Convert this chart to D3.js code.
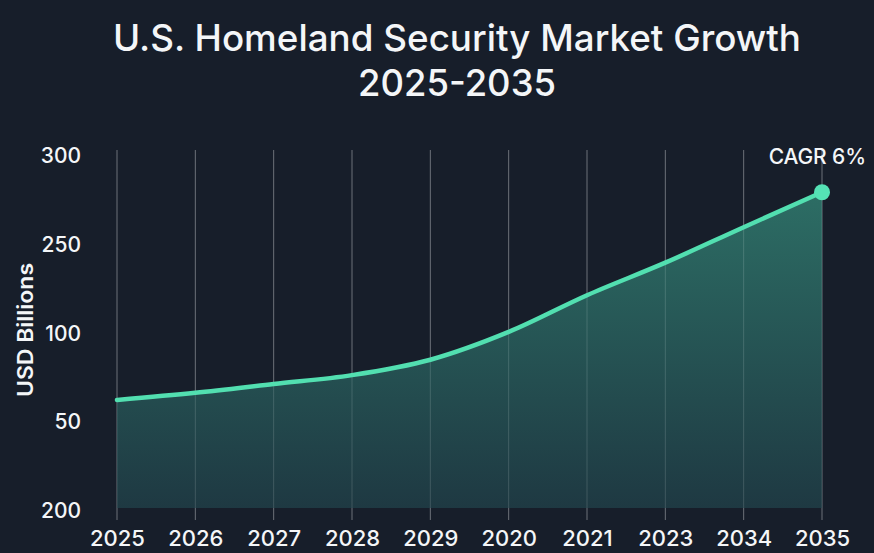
<html>
  <head>
    <script src="https://d3js.org/d3.v7.min.js"></script>
    <style>
      body { margin: 0; background: #171e2a; }
      text { font-family: Inter, "Noto Sans", sans-serif; fill: #f4f6f8; }
      .grid line { stroke: rgba(255,255,255,0.28); stroke-width: 1; }
      .domain { display: none; }
      .tick line { display: none; }
    </style>
  </head>
  <body>
    <svg id="chart" width="874" height="553"></svg>
    <script>
      // labels as printed on the chart
      var years = ['2025', '2026', '2027', '2028', '2029', '2020', '2021', '2023', '2034', '2035'];
      var market = [93, 99, 106.5, 114, 127, 150.5, 181.5, 209, 239, 268.5];
      var yTicks = [0, 75, 150, 225, 300];
      var yTickLabels = ['200', '50', '100', '250', '300'];

      var data = years.map(function(y, i) { return { year: y, value: market[i] }; });

      var svg = d3.select('#chart');
      svg.append('rect').attr('width', 874).attr('height', 553).attr('fill', '#171e2a');

      var x = d3.scalePoint().domain(years).range([117, 822]);
      var y = d3.scaleLinear().domain([0, 300]).range([510, 155]);

      var defs = svg.append('defs');
      var grad = defs.append('linearGradient').attr('id', 'fillGrad')
        .attr('x1', 0).attr('y1', 0).attr('x2', 0).attr('y2', 1);
      grad.append('stop').attr('offset', '0%').attr('stop-color', '#2f766b');
      grad.append('stop').attr('offset', '100%').attr('stop-color', '#1f3c45');

      // title
      var title = svg.append('text').attr('text-anchor', 'middle').attr('font-size', 37).attr('font-weight', 500);
      title.append('tspan').attr('x', 457).attr('y', 51).attr('textLength', 688).attr('lengthAdjust', 'spacingAndGlyphs')
        .text('U.S. Homeland Security Market Growth');
      title.append('tspan').attr('x', 457).attr('y', 96).attr('textLength', 198).attr('lengthAdjust', 'spacingAndGlyphs')
        .text('2025-2035');

      // vertical grid
      svg.append('g').attr('class', 'grid')
        .selectAll('line').data(years).join('line')
        .attr('x1', function(d) { return x(d); }).attr('x2', function(d) { return x(d); })
        .attr('y1', 150).attr('y2', 520);

      var area = d3.area()
        .x(function(d) { return x(d.year); })
        .y0(y(0) - 2)
        .y1(function(d) { return y(d.value); })
        .curve(d3.curveMonotoneX);

      var line = d3.line()
        .x(function(d) { return x(d.year); })
        .y(function(d) { return y(d.value); })
        .curve(d3.curveMonotoneX);

      svg.append('path').datum(data).attr('d', area).attr('fill', 'url(#fillGrad)').attr('opacity', 0.9);
      // redraw grid faintly over the fill
      svg.append('g').attr('class', 'grid')
        .selectAll('line').data(years).join('line')
        .attr('x1', function(d) { return x(d); }).attr('x2', function(d) { return x(d); })
        .attr('y1', 150).attr('y2', 520).style('stroke', 'rgba(255,255,255,0.12)');

      svg.append('path').datum(data).attr('d', line)
        .attr('fill', 'none').attr('stroke', '#52dfb0').attr('stroke-width', 4.5).attr('stroke-linecap', 'round');

      var last = data[data.length - 1];
      svg.append('circle').attr('cx', x(last.year)).attr('cy', y(last.value)).attr('r', 8).attr('fill', '#55e2b5');
      svg.append('text').attr('x', 866).attr('y', 164).attr('text-anchor', 'end').attr('font-size', 21).attr('font-weight', 500)
        .attr('letter-spacing', -0.1).text('CAGR 6%');

      // y axis
      var yAxis = d3.axisLeft(y).tickValues(yTicks).tickSize(0).tickPadding(0)
        .tickFormat(function(d, i) { return yTickLabels[i]; });
      var gY = svg.append('g').attr('transform', 'translate(81,0)').call(yAxis);
      gY.selectAll('text').attr('font-size', 21).attr('font-weight', 500).attr('dy', '0.36em').style('fill', '#f4f6f8');

      // x axis
      var xAxis = d3.axisBottom(x).tickSize(0).tickPadding(0);
      var gX = svg.append('g').attr('transform', 'translate(0,530)').call(xAxis);
      gX.selectAll('text').attr('font-size', 22).attr('font-weight', 500).attr('dy', '0.74em').style('fill', '#f4f6f8');

      svg.append('text').attr('transform', 'translate(33,330) rotate(-90)').attr('text-anchor', 'middle')
        .attr('font-size', 21).attr('font-weight', 600).attr('textLength', 134).attr('lengthAdjust', 'spacingAndGlyphs')
        .text('USD Billions');
    </script>
  </body>
</html>
